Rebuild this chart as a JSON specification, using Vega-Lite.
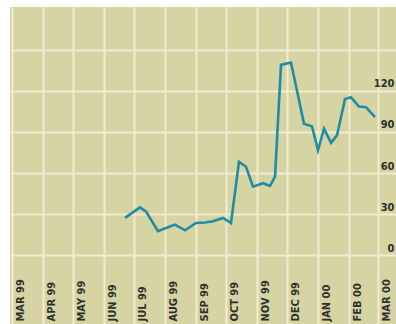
{
  "$schema": "https://vega.github.io/schema/vega-lite/v6.json",
  "width": 390,
  "height": 317,
  "autosize": {"type": "none"},
  "padding": {"left": 10, "top": 7, "right": 0, "bottom": 0},
  "background": "white",
  "view": {"fill": "#d7d4a4", "stroke": null},
  "data": {
    "values": [
      {"date": "1999-06-22", "value": 27.3},
      {"date": "1999-07-07", "value": 35},
      {"date": "1999-07-13", "value": 32},
      {"date": "1999-07-25", "value": 17.6},
      {"date": "1999-08-02", "value": 20},
      {"date": "1999-08-11", "value": 22.4},
      {"date": "1999-08-21", "value": 18.3},
      {"date": "1999-09-01", "value": 23.6},
      {"date": "1999-09-10", "value": 24},
      {"date": "1999-09-18", "value": 24.8},
      {"date": "1999-09-28", "value": 27.3},
      {"date": "1999-10-06", "value": 23.6},
      {"date": "1999-10-14", "value": 68.2},
      {"date": "1999-10-21", "value": 64.6},
      {"date": "1999-10-28", "value": 50.1},
      {"date": "1999-11-07", "value": 52.6},
      {"date": "1999-11-14", "value": 50.6},
      {"date": "1999-11-19", "value": 57.4},
      {"date": "1999-11-25", "value": 138.8},
      {"date": "1999-12-05", "value": 140.5},
      {"date": "1999-12-11", "value": 120},
      {"date": "1999-12-18", "value": 96},
      {"date": "1999-12-26", "value": 94},
      {"date": "2000-01-01", "value": 76.6},
      {"date": "2000-01-07", "value": 92.3},
      {"date": "2000-01-14", "value": 82},
      {"date": "2000-01-20", "value": 87.5},
      {"date": "2000-01-28", "value": 114},
      {"date": "2000-02-03", "value": 115.2},
      {"date": "2000-02-11", "value": 108.5},
      {"date": "2000-02-18", "value": 108},
      {"date": "2000-02-27", "value": 100.7}
    ]
  },
  "mark": {"type": "line", "color": "#1f8ca6", "strokeWidth": 2.6, "strokeJoin": "miter"},
  "encoding": {
    "x": {
      "field": "date",
      "type": "temporal",
      "title": null,
      "scale": {"domain": [{"year": 1999, "month": 2, "date": 27}, {"year": 2000, "month": 3, "date": 23}]},
      "axis": {
        "orient": "bottom",
        "tickCount": {"interval": "month", "step": 1},
        "grid": true,
        "gridColor": "#efecd2",
        "gridWidth": 2,
        "gridOpacity": 1,
        "ticks": false,
        "tickSize": 0,
        "domain": false,
        "labelAngle": 270,
        "labelAlign": "left",
        "labelBaseline": "middle",
        "labelPadding": -3,
        "labelOffset": 8,
        "labelFlush": false,
        "labelOverlap": false,
        "labelBound": false,
        "labelFont": "DejaVu Sans Condensed",
        "labelFontWeight": "bold",
        "labelFontSize": 11,
        "labelColor": "#2e2e2e",
        "labelExpr": "upper(timeFormat(datum.value, '%b %y'))"
      }
    },
    "y": {
      "field": "value",
      "type": "quantitative",
      "title": null,
      "scale": {"domain": [-50, 181], "nice": false, "zero": false},
      "axis": {
        "orient": "right",
        "values": [0, 30, 60, 90, 120, 150],
        "grid": true,
        "gridColor": "#efecd2",
        "gridWidth": 2,
        "gridOpacity": 1,
        "ticks": false,
        "tickSize": 0,
        "domain": false,
        "labelAlign": "right",
        "labelBaseline": "alphabetic",
        "labelPadding": -6,
        "labelOffset": -4,
        "labelFlush": false,
        "labelOverlap": false,
        "labelBound": false,
        "labelFont": "DejaVu Sans Condensed",
        "labelFontWeight": "bold",
        "labelFontSize": 11,
        "labelColor": "#2e2e2e",
        "labelExpr": "datum.value <= 120 ? datum.label : ''"
      }
    }
  }
}
